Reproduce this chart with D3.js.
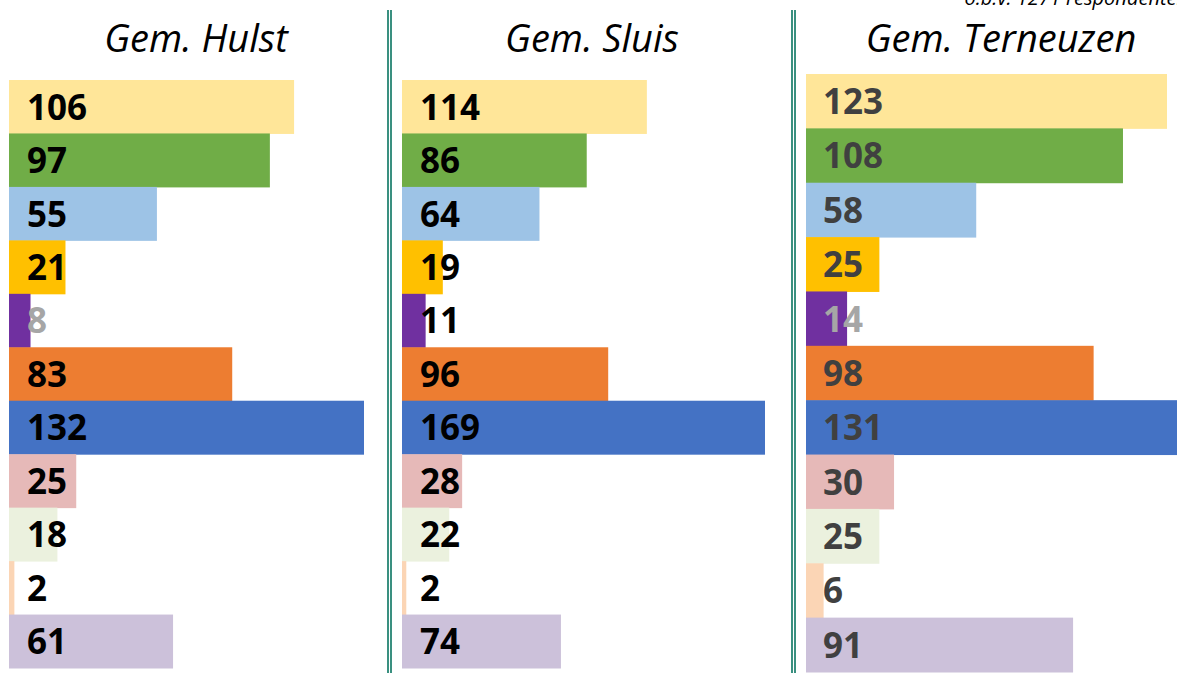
<!DOCTYPE html>
<html><head><meta charset="utf-8">
<script src="https://cdn.jsdelivr.net/npm/d3@7"></script>
<style>html,body{margin:0;padding:0;background:#fff;overflow:hidden}</style>
</head><body>
<svg id="chart" width="1177" height="673"></svg>
<script>
const categories = ["c1","c2","c3","c4","c5","c6","c7","c8","c9","c10","c11"];
const hulst = [106,97,55,21,8,83,132,25,18,2,61];
const sluis = [114,86,64,19,11,96,169,28,22,2,74];
const terneuzen = [123,108,58,25,14,98,131,30,25,6,91];
const titles = ["Gem. Hulst","Gem. Sluis","Gem. Terneuzen"];
const note = "o.b.v. 1271 respondenten";
const colors = ["#FFE699","#70AD47","#9DC3E6","#FFC000","#7030A0","#ED7D31","#4472C4","#E6B9B8","#EBF1DE","#FBD5B5","#CCC1DA"];

const svg = d3.select("#chart");
const panels = [
  {vals: hulst, x0: 9, x1: 364, dmax: 132, y0: 80, y1: 668, tx: 196, lx: 27, lc: "#000", pc: "#A6A6A6"},
  {vals: sluis, x0: 402, x1: 765, dmax: 169, y0: 80, y1: 668, tx: 592, lx: 420, lc: "#000", pc: "#000"},
  {vals: terneuzen, x0: 806, x1: 1167, dmax: 123, y0: 74, y1: 672, tx: 1001, lx: 823, lc: "#404040", pc: "#A6A6A6"}
];

panels.forEach((p, i) => {
  const x = d3.scaleLinear().domain([0, p.dmax]).range([p.x0, p.x1]);
  const y = d3.scaleBand().domain(categories).range([p.y0, p.y1]).padding(0);
  const g = svg.append("g");
  g.selectAll("rect").data(p.vals).join("rect")
    .attr("x", x(0)).attr("y", (d, j) => y(categories[j]))
    .attr("width", d => x(d) - x(0)).attr("height", y.bandwidth() + 0.5)
    .attr("fill", (d, j) => colors[j]);
  g.selectAll("text.lbl").data(p.vals).join("text").attr("class", "lbl")
    .attr("x", p.lx).attr("y", (d, j) => y(categories[j]) + y.bandwidth() / 2)
    .attr("dy", "0.37em")
    .attr("font-family", "'Open Sans', sans-serif").attr("font-weight", 700)
    .attr("font-size", 35)
    .attr("fill", (d, j) => j === 4 ? p.pc : p.lc)
    .text(d => d);
  svg.append("text").attr("x", p.tx).attr("y", 52).attr("text-anchor", "middle")
    .attr("font-family", "'Open Sans', sans-serif").attr("font-style", "italic")
    .attr("font-size", 38).attr("fill", "#000").text(titles[i]);
});

[388, 391, 792, 795].forEach(xx => {
  svg.append("line").attr("x1", xx).attr("x2", xx).attr("y1", 10).attr("y2", 673)
    .attr("stroke", "#3A9080").attr("stroke-width", 2);
});

svg.append("text").attr("x", 1188).attr("y", 5).attr("text-anchor", "end")
  .attr("font-family", "'Open Sans', sans-serif").attr("font-style", "italic")
  .attr("font-size", 20).attr("fill", "#000").text(note);
</script>
</body></html>
